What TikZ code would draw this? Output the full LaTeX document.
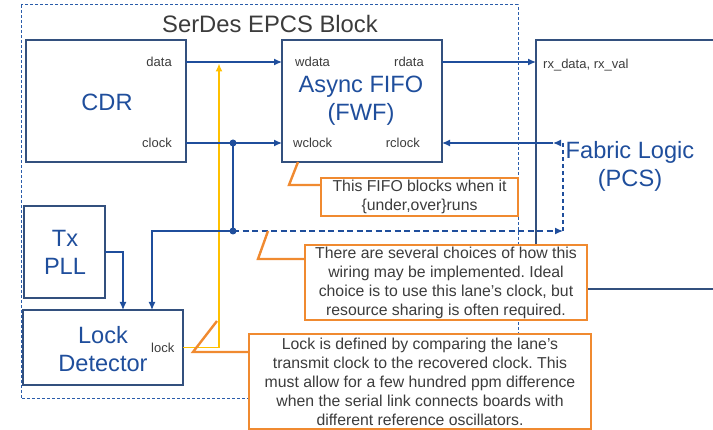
\documentclass[tikz,border=0pt]{standalone}
\usepackage{fontspec}
\setmainfont{Liberation Sans}
\usetikzlibrary{arrows.meta}
\frenchspacing
\definecolor{boxc}{HTML}{33507E}
\definecolor{lnb}{HTML}{1F4E9C}
\definecolor{txtb}{HTML}{1F4E9C}
\definecolor{txtg}{HTML}{3C3C3C}
\definecolor{orc}{HTML}{F08A30}
\definecolor{yelc}{HTML}{FFC000}
\definecolor{bordc}{HTML}{2A5CAA}
\definecolor{fabc}{HTML}{5A6E8C}
\tikzset{
  blk/.style={draw=boxc, line width=1.4pt, inner sep=0pt, outer sep=0pt},
  big/.style={text=txtb, font=\fontsize{23.6}{28}\selectfont, align=center, inner sep=0pt},
  small/.style={text=txtg, font=\fontsize{13}{15}\selectfont, inner sep=0pt},
  sig/.style={draw=lnb, line width=1.2pt, -{Latex[length=8pt,width=7pt]}},
  wire/.style={draw=lnb, line width=1.2pt},
  callout/.style={draw=orc, line width=2.4pt, fill=white, inner sep=0pt, outer sep=0pt, text=txtg, align=center, font=\fontsize{15.8}{19}\selectfont},
  ptr/.style={draw=orc, line width=2.4pt},
  yel/.style={draw=yelc, line width=1.4pt, -{Latex[length=8pt,width=7pt]}},
  dot/.style={circle, fill=lnb, inner sep=0pt, minimum size=7pt}
}
\begin{document}
\begin{tikzpicture}[x=1pt,y=-1pt]
\useasboundingbox (0,0) rectangle (713,430);
% outer dashed block
\draw[draw=bordc, line width=1pt, dash pattern=on 3pt off 2pt] (21,5) rectangle (518,399);
\node[text=txtg, font=\fontsize{23.8}{28}\selectfont, inner sep=0pt] (title) at (270,24) {SerDes EPCS Block};
% fabric box
\node[draw=boxc, line width=1.4pt, inner sep=0pt, outer sep=0pt, minimum width=204pt, minimum height=249pt] (fabric) at (638,164.5) {};
\node[big] (fabtxt) at (630,166) {Fabric Logic\\(PCS)};
% blocks
\node[blk, minimum width=160pt, minimum height=122pt] (cdr) at (106,101) {};
\node[big] (cdrtxt) at (107,102) {CDR};
\node[blk, minimum width=160pt, minimum height=122pt] (fifo) at (362,101) {};
\node[big] (fifotxt) at (361,101) {Async FIFO\\(FWF)};
\node[blk, minimum width=81pt, minimum height=92pt] (txpll) at (64.5,252) {};
\node[big] (txtxt) at (65,252) {Tx\\PLL};
\node[blk, minimum width=160pt, minimum height=75pt] (lockdet) at (103,347.5) {};
\node[big] (locktxt) at (103,349) {Lock\\Detector};
% small labels
\node[small, anchor=east] (ldata) at (172,62) {data};
\node[small, anchor=east] (lclock) at (172,143) {clock};
\node[small, anchor=west] (lwdata) at (295,62) {wdata};
\node[small, anchor=west] (lwclock) at (293,143) {wclock};
\node[small, anchor=east] (lrdata) at (424,62) {rdata};
\node[small, anchor=east] (lrclock) at (420,143) {rclock};
\node[small, anchor=west] (lrx) at (543,65) {rx\_data, rx\_val};
\node[small, anchor=west] (llock) at (151,348) {lock};
% coordinates
\coordinate (yd) at (0,62);
\coordinate (yc) at (0,143);
\node[dot] (j1) at (233,143) {};
\node[dot] (j2) at (233,231) {};
\coordinate (lx) at (152,0);
\coordinate (tx) at (123,0);
\coordinate (ya) at (219,63.5);
\coordinate (fr) at (563,231);
\coordinate (fc) at (563,143);
\coordinate (ft) at (553,143);
% connectors
\draw[yel] (lockdet.east) -| (ya);
\draw[sig] (cdr.east |- yd) -- (fifo.west |- yd);
\draw[sig] (cdr.east |- yc) -- (fifo.west |- yc);
\draw[wire] (j1.center) -- (j2.center);
\draw[sig] (j2.center) -| (lockdet.north -| lx);
\draw[sig] (txpll.east) -| (lockdet.north -| tx);
\draw[sig] (fifo.east |- yd) -- (fabric.west |- yd);
\draw[sig] (ft) -- (fifo.east |- yc);
\draw[sig, dash pattern=on 6pt off 3.5pt] (j2.center) -- (fr);
\draw[sig, dash pattern=on 4pt off 3pt] (fr) -- (fc) -- (ft);
% callouts
\node[callout, minimum width=197pt, minimum height=38pt] (c1) at (419.5,197) {This FIFO blocks when it\\\{under,over\}runs};
\node[callout, minimum width=282pt, minimum height=75pt] (c2) at (446,282.5) {There are several choices of how this\\wiring may be implemented. Ideal\\choice is to use this lane’s clock, but\\resource sharing is often required.};
\node[callout, minimum width=342pt, minimum height=95pt] (c3) at (420,381.5) {Lock is defined by comparing the lane’s\\transmit clock to the recovered clock. This\\must allow for a few hundred ppm difference\\when the serial link connects boards with\\different reference oscillators.};
\coordinate (p1a) at (289,185);
\coordinate (p1b) at (298,0);
\coordinate (p2a) at (258,259);
\coordinate (p2b) at (268,231);
\coordinate (p3a) at (193,352);
\coordinate (p3b) at (217,321);
\draw[ptr] (c1.west |- p1a) -- (p1a) -- (fifo.south -| p1b);
\draw[ptr] (c2.west |- p2a) -- (p2a) -- (p2b);
\draw[ptr] (c3.west |- p3a) -- (p3a) -- (p3b);
\end{tikzpicture}
\end{document}
